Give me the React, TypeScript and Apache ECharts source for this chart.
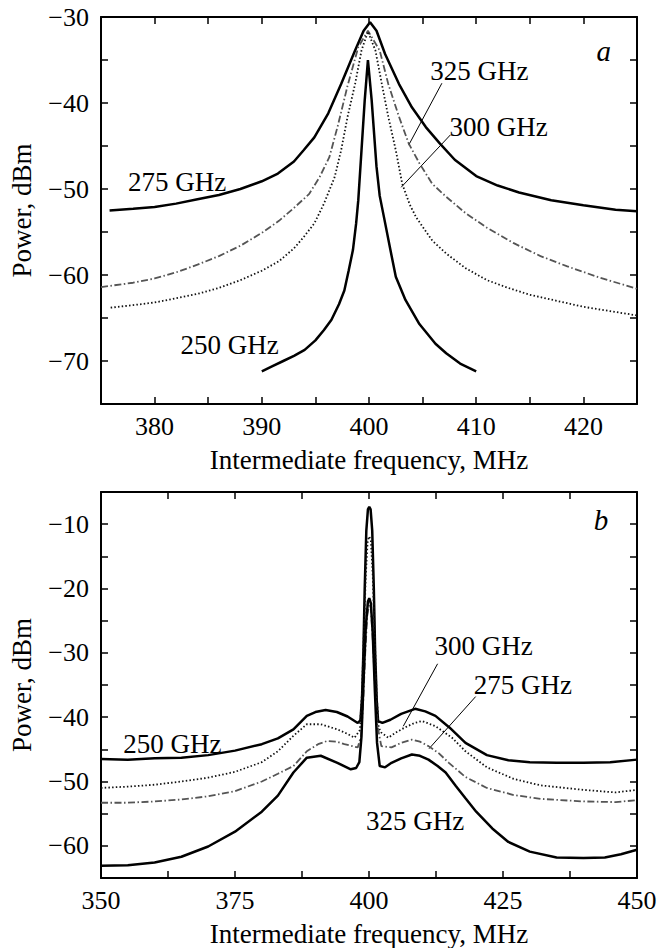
import React, { useEffect, useRef } from "react";
import * as echarts from "echarts";

// ---------- Panel a data (x: MHz, y: dBm) ----------
const a275: [number, number][] = [[375.8,-52.5],[378,-52.3],[380,-52.1],[382,-51.7],[384,-51.2],[386,-50.7],[388,-50.0],[390,-49.1],[391.5,-48.2],[393,-46.8],[393.9,-45.5],[394.9,-44.0],[396.2,-41.2],[397.4,-37.8],[398.7,-33.9],[399.5,-31.6],[400.1,-30.6],[400.7,-31.6],[401.5,-34.3],[402.8,-37.8],[404,-40.5],[405.3,-42.8],[406.6,-44.7],[408,-46.6],[410,-48.5],[412,-49.6],[414,-50.4],[417,-51.3],[420,-51.9],[423,-52.4],[425,-52.6]];
const a325: [number, number][] = [[375,-61.4],[378,-60.9],[380,-60.4],[382,-59.7],[384,-58.8],[386,-57.8],[388,-56.6],[390,-55.1],[391.6,-53.7],[393,-52.2],[394.4,-50.6],[395.4,-48.6],[396.3,-46.3],[397.1,-42.6],[398,-38.0],[399,-33.5],[399.9,-31.6],[401,-33.9],[401.8,-37.8],[402.8,-41.6],[403.7,-44.7],[404.7,-47.0],[405.9,-49.4],[407.2,-50.9],[409,-52.8],[411,-54.5],[413.5,-56.3],[416,-57.8],[418.5,-59.0],[421.5,-60.3],[425,-61.6]];
const a300: [number, number][] = [[375.9,-63.8],[378,-63.5],[380,-63.2],[382,-62.7],[384,-62.2],[386,-61.5],[388,-60.6],[390,-59.5],[391.6,-58.4],[393,-56.9],[393.9,-55.6],[394.9,-54.0],[395.8,-51.7],[396.8,-48.6],[397.4,-45.5],[398,-41.6],[398.7,-37.8],[399.3,-33.9],[399.9,-31.7],[400.6,-33.9],[401.2,-37.8],[401.8,-41.6],[402.5,-45.5],[403.1,-49.4],[403.8,-51.8],[404.4,-53.3],[405.9,-56.0],[407.2,-57.5],[409,-59.2],[411,-60.6],[413,-61.5],[415,-62.3],[417.5,-63.0],[420,-63.7],[422.5,-64.2],[425,-64.7]];
const a250: [number, number][] = [[390,-71.2],[391,-70.6],[392,-70.0],[393,-69.4],[394,-68.7],[395,-67.6],[395.8,-66.4],[396.5,-65.2],[397.2,-63.4],[397.7,-61.8],[398.1,-59.5],[398.5,-57.1],[398.8,-54.0],[399,-51.3],[399.3,-45.5],[399.6,-39.7],[399.9,-35.0],[400.25,-39.7],[400.7,-47.4],[401,-50.8],[401.4,-53.3],[402,-57.1],[402.5,-60.2],[403.4,-62.9],[404.7,-65.7],[406.2,-68.0],[407.2,-69.1],[408.5,-70.3],[410,-71.2]];

// ---------- Panel b data ----------
const b250: [number, number][] = [[350,-46.5],[355,-46.6],[360,-46.4],[365,-46.3],[370,-45.9],[375,-45.2],[380,-44.2],[383,-43.3],[385.9,-41.9],[388.4,-39.8],[390,-39.2],[391.9,-38.9],[394,-39.2],[396,-39.9],[397.9,-40.9],[398.4,-40.5],[398.7,-37],[398.95,-30],[399.2,-20],[399.5,-11],[399.8,-7.7],[400.05,-7.3],[400.3,-7.7],[400.6,-11],[400.9,-20],[401.15,-30],[401.45,-37.5],[401.7,-40.6],[402.5,-40.9],[404,-40.4],[406,-39.5],[408.6,-38.7],[410.5,-39.1],[412.4,-39.8],[415,-41.6],[418,-44.0],[422,-45.9],[426,-46.7],[430,-47.0],[435,-47.1],[440,-47.1],[445,-47.0],[450,-46.6]];
const b300: [number, number][] = [[350,-51.0],[355,-50.8],[360,-50.5],[365,-50.0],[370,-49.4],[375,-48.5],[380,-47.0],[383,-45.3],[385.9,-42.9],[388.4,-41.1],[391,-41.1],[394.1,-41.9],[396,-42.6],[397.3,-43.2],[398.3,-42.0],[398.7,-36],[399.0,-28],[399.4,-18],[399.75,-12.6],[400.05,-11.9],[400.35,-12.6],[400.7,-18],[401.1,-28],[401.4,-36],[401.8,-41.6],[402.3,-42.4],[403.6,-43.2],[405,-42.4],[406.7,-41.6],[408.5,-40.9],[409.9,-40.6],[412.4,-41.4],[415.5,-43.2],[418,-45.3],[422,-47.8],[427,-49.6],[432,-50.6],[440,-51.3],[446,-51.7],[450,-51.3]];
const b275: [number, number][] = [[350,-53.3],[355,-53.3],[360,-53.1],[365,-52.8],[370,-52.3],[375,-51.5],[380,-50.0],[383,-48.8],[385.9,-47.6],[388.4,-45.3],[390.5,-44.2],[392.2,-43.7],[394,-43.8],[395.4,-44.2],[397.9,-44.7],[398.5,-43.0],[398.9,-38],[399.3,-30],[399.7,-24],[400.05,-22.5],[400.35,-23],[400.7,-28],[401.1,-35],[401.5,-41],[402.3,-44.5],[404.2,-44.7],[406,-44.0],[408,-43.5],[409.5,-43.8],[411.1,-44.5],[413,-45.6],[414.9,-47.1],[418,-49.3],[422,-51.0],[427,-52.1],[432,-52.7],[440,-53.1],[446,-53.2],[450,-52.9]];
const b325: [number, number][] = [[350,-63.1],[355,-63.0],[360,-62.6],[365,-61.7],[370,-60.1],[375,-57.8],[380,-54.7],[383,-52.2],[385.9,-48.6],[388.4,-46.3],[391,-46.0],[394.1,-47.1],[396.6,-48.1],[397.6,-47.9],[398.2,-47.0],[398.6,-43],[399.0,-34],[399.4,-26],[399.8,-22.0],[400.05,-21.5],[400.35,-22.3],[400.7,-27],[401.1,-36],[401.5,-44],[402,-47.6],[403,-47.8],[404.2,-47.1],[406,-46.4],[408,-45.8],[409.5,-46.0],[411.1,-46.6],[412.8,-47.6],[414.3,-48.6],[416.2,-50.7],[418,-52.6],[420,-54.7],[423,-57.3],[426,-59.4],[430,-60.9],[435,-61.8],[440,-61.9],[444,-61.8],[447,-61.3],[450,-60.6]];

// ---------- Axis ranges ----------
const aX = { min: 375, max: 425, step: 5, labelEvery: 10 };
const aY = { min: -75, max: -30, step: 5, labelEvery: 10 };
const bX = { min: 350, max: 450, step: 12.5, labelEvery: 25 };
const bY = { min: -65, max: -5, step: 5, labelEvery: 10 };

// ---------- Annotations (data coordinates) ----------
const labelsA = [
  { text: "325 GHz", x: 410.3, y: -36.3 },
  { text: "300 GHz", x: 412.1, y: -42.8 },
  { text: "275 GHz", x: 382.1, y: -49.2 },
  { text: "250 GHz", x: 387.0, y: -68.1 },
];
const leadersA = [
  [[406.8, -37.7], [403.7, -44.9]],
  [[407.6, -43.7], [403.0, -49.8]],
];
const labelsB = [
  { text: "300 GHz", x: 421.4, y: -29.0 },
  { text: "275 GHz", x: 428.7, y: -35.0 },
  { text: "250 GHz", x: 363.3, y: -44.2 },
  { text: "325 GHz", x: 408.6, y: -56.1 },
];
const leadersB = [
  [[412.8, -31.7], [406.4, -41.4]],
  [[419.9, -36.8], [411.2, -44.9]],
];
const panelLetters = [
  { text: "a", x: 421.9, y: -34.0, panel: 0 },
  { text: "b", x: 443.3, y: -9.3, panel: 1 },
];

const FONT = "Liberation Serif";

function fmt(every: number) {
  return (v: number) => {
    const r = Math.round(v * 1000) / 1000;
    if (Math.abs(r / every - Math.round(r / every)) > 1e-6) return "";
    return r < 0 ? "\u2212" + Math.abs(r) : String(r);
  };
}

export default function App() {
  const ref = useRef<HTMLDivElement>(null);
  useEffect(() => {
    if (!ref.current) return;
    const chart = echarts.init(ref.current, undefined, { renderer: "svg" });
    const axisLine = { show: true, lineStyle: { color: "#000", width: 2 } };
    const tick = { show: true, inside: true, length: 7, lineStyle: { color: "#000", width: 1.5 } };
    const lbl = { color: "#000", fontFamily: FONT, fontSize: 26 };
    const nameStyle = { color: "#000", fontFamily: FONT, fontSize: 27 };

    const mkX = (r: any, grid: number, top: boolean) => ({
      type: "value", gridIndex: grid, min: r.min, max: r.max, interval: r.step,
      position: top ? "top" : "bottom",
      axisLine, axisTick: tick, splitLine: { show: false },
      axisLabel: top ? { show: false } : { ...lbl, margin: 9, formatter: fmt(r.labelEvery), showMinLabel: true, showMaxLabel: true },
      name: top ? "" : "Intermediate frequency, MHz",
      nameLocation: "middle", nameGap: 42, nameTextStyle: nameStyle,
    });
    const mkY = (r: any, grid: number, right: boolean) => ({
      type: "value", gridIndex: grid, min: r.min, max: r.max, interval: r.step,
      position: right ? "right" : "left",
      axisLine, axisTick: tick, splitLine: { show: false },
      axisLabel: right ? { show: false } : { ...lbl, margin: 12, formatter: fmt(r.labelEvery) },
      name: right ? "" : "Power, dBm",
      nameLocation: "middle", nameGap: 66, nameTextStyle: nameStyle,
    });

    const solid = { color: "#000", width: 2.5, type: "solid" };
    const dotted = { color: "#111", width: 1.8, type: [1.5, 2.2] };
    const dashdot = { color: "#555", width: 1.8, type: [7, 2.5, 1.5, 2.5] };
    const ser = (data: any, xi: number, yi: number, ls: any) => ({
      type: "line", data, xAxisIndex: xi, yAxisIndex: yi, showSymbol: false, symbol: "none",
      lineStyle: ls, smooth: false, z: 3,
    });

    chart.setOption({
      animation: false,
      grid: [
        { left: 100, right: 27, top: 17, height: 387 },
        { left: 100, right: 27, top: 492, height: 387 },
      ],
      xAxis: [mkX(aX, 0, false), mkX(aX, 0, true), mkX(bX, 1, false), mkX(bX, 1, true)],
      yAxis: [mkY(aY, 0, false), mkY(aY, 0, true), mkY(bY, 1, false), mkY(bY, 1, true)],
      series: [
        ser(a275, 0, 0, solid),
        ser(a325, 0, 0, dashdot),
        ser(a300, 0, 0, dotted),
        ser(a250, 0, 0, solid),
        ser(b250, 2, 2, solid),
        ser(b300, 2, 2, dotted),
        ser(b275, 2, 2, dashdot),
        ser(b325, 2, 2, solid),
      ],
    });

    const px = (panel: number, p: number[]) =>
      chart.convertToPixel(panel === 0 ? { xAxisIndex: 0, yAxisIndex: 0 } : { xAxisIndex: 2, yAxisIndex: 2 }, p) as number[];
    const graphics: any[] = [];
    const addLabels = (labels: any[], panel: number) => {
      labels.forEach((l) => {
        const [x, y] = px(panel, [l.x, l.y]);
        graphics.push({ type: "text", x, y, style: { text: l.text, fill: "#000", font: `27px "${FONT}"`, align: "center", verticalAlign: "middle" } });
      });
    };
    const addLeaders = (ls: any[], panel: number) => {
      ls.forEach((seg) => {
        const [x1, y1] = px(panel, seg[0]);
        const [x2, y2] = px(panel, seg[1]);
        graphics.push({ type: "line", shape: { x1, y1, x2, y2 }, style: { stroke: "#000", lineWidth: 1 } });
      });
    };
    addLabels(labelsA, 0);
    addLabels(labelsB, 1);
    addLeaders(leadersA, 0);
    addLeaders(leadersB, 1);
    panelLetters.forEach((l) => {
      const [x, y] = px(l.panel, [l.x, l.y]);
      graphics.push({ type: "text", x, y, style: { text: l.text, fill: "#000", font: `italic 29px "${FONT}"`, align: "center", verticalAlign: "middle" } });
    });
    chart.setOption({ graphic: graphics });

    return () => chart.dispose();
  }, []);
  return <div ref={ref} style={{ position: "absolute", left: 0, top: 0, width: 664, height: 948, background: "#fff" }} />;
}
